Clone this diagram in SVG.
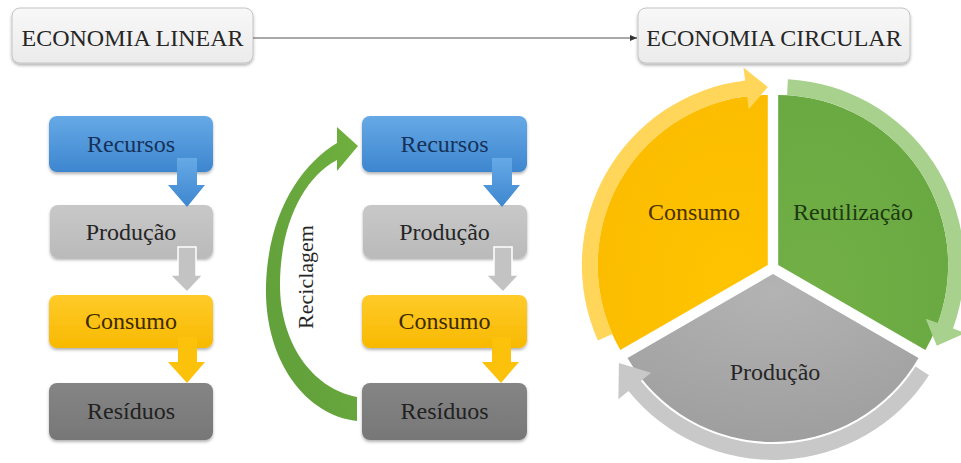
<svg xmlns="http://www.w3.org/2000/svg" width="961" height="463" viewBox="0 0 961 463">
<style>
.t{font-family:"Liberation Serif","Times New Roman",serif;font-size:24px;text-anchor:middle}
.h{font-family:"Liberation Serif","Times New Roman",serif;font-size:24px;text-anchor:middle;fill:#262626}
</style>
<defs>
<filter id="sh" x="-10%" y="-10%" width="120%" height="130%"><feDropShadow dx="0" dy="2" stdDeviation="1.5" flood-color="#000" flood-opacity="0.3"/></filter>
<linearGradient id="gTop" x1="0" y1="0" x2="0" y2="1"><stop offset="0" stop-color="#f8f8f8"/><stop offset="1" stop-color="#ebebeb"/></linearGradient>
<linearGradient id="gBlue" x1="0" y1="0" x2="0" y2="1"><stop offset="0" stop-color="#66a9e6"/><stop offset="1" stop-color="#3d86cf"/></linearGradient>
<linearGradient id="gGray" x1="0" y1="0" x2="0" y2="1"><stop offset="0" stop-color="#c8c8c8"/><stop offset="1" stop-color="#bababa"/></linearGradient>
<linearGradient id="gYel" x1="0" y1="0" x2="0" y2="1"><stop offset="0" stop-color="#ffcb2a"/><stop offset="1" stop-color="#f8b900"/></linearGradient>
<linearGradient id="gDark" x1="0" y1="0" x2="0" y2="1"><stop offset="0" stop-color="#858585"/><stop offset="1" stop-color="#777777"/></linearGradient>
<linearGradient id="gGreen" x1="0" y1="1" x2="1" y2="0"><stop offset="0" stop-color="#5f9d3a"/><stop offset="1" stop-color="#6fb03f"/></linearGradient>
<radialGradient id="gSecY" cx="0.8" cy="0.8" r="1"><stop offset="0" stop-color="#ffc400"/><stop offset="1" stop-color="#fbbb00"/></radialGradient>
<radialGradient id="gSecG" cx="0.2" cy="0.8" r="1"><stop offset="0" stop-color="#72b047"/><stop offset="1" stop-color="#68a840"/></radialGradient>
<radialGradient id="gSecP" cx="0.5" cy="0.1" r="1"><stop offset="0" stop-color="#b3b3b3"/><stop offset="1" stop-color="#9c9c9c"/></radialGradient>
<marker id="ah" markerWidth="8" markerHeight="8" refX="7" refY="4" orient="auto" markerUnits="userSpaceOnUse"><path d="M0,1 L7,4 L0,7 Z" fill="#333"/></marker>
</defs>
<rect width="961" height="463" fill="#ffffff"/>

<g id="economia-linear">
<rect x="12" y="8" width="241" height="55" rx="8" fill="url(#gTop)" stroke="#c4c4c4" filter="url(#sh)"/>
<text class="h" x="132.5" y="46">ECONOMIA LINEAR</text>
</g>

<g id="linear-recursos"><rect x="49" y="116" width="164" height="56" rx="8" fill="url(#gBlue)" filter="url(#sh)"/><text class="t" x="131" y="152" fill="#16325a">Recursos</text></g>
<g id="linear-producao"><rect x="50" y="205" width="163" height="53" rx="8" fill="url(#gGray)" filter="url(#sh)"/><text class="t" x="131" y="240" fill="#262626">Produção</text></g>
<g id="linear-consumo"><rect x="49" y="295" width="164" height="53" rx="8" fill="url(#gYel)" filter="url(#sh)"/><text class="t" x="131" y="329" fill="#3d2a00">Consumo</text></g>
<g id="linear-residuos"><rect x="49" y="383" width="164" height="57" rx="8" fill="url(#gDark)" filter="url(#sh)"/><text class="t" x="131" y="419" fill="#222">Resíduos</text></g>

<g id="rec-recursos"><rect x="362" y="116" width="165" height="56" rx="8" fill="url(#gBlue)" filter="url(#sh)"/><text class="t" x="444.5" y="152" fill="#16325a">Recursos</text></g>
<g id="rec-producao"><rect x="363" y="205" width="164" height="53" rx="8" fill="url(#gGray)" filter="url(#sh)"/><text class="t" x="444.5" y="240" fill="#262626">Produção</text></g>
<g id="rec-consumo"><rect x="362" y="295" width="165" height="53" rx="8" fill="url(#gYel)" filter="url(#sh)"/><text class="t" x="444.5" y="329" fill="#3d2a00">Consumo</text></g>
<g id="rec-residuos"><rect x="362" y="383" width="165" height="57" rx="8" fill="url(#gDark)" filter="url(#sh)"/><text class="t" x="444.5" y="419" fill="#222">Resíduos</text></g>

<g id="ciclo-consumo">
<path d="M767.8,265 L620.3,350 A170,170 0 0,1 767.8,95 Z" fill="url(#gSecY)"/>
<text class="t" x="694" y="220" fill="#4a3200">Consumo</text>
</g>
<g id="ciclo-reutilizacao">
<path d="M778.2,265 L778.2,95 A170,170 0 0,1 925.4,350 Z" fill="url(#gSecG)"/>
<text class="t" x="853" y="220" fill="#1d3a10">Reutilização</text>
</g>
<g id="ciclo-producao">
<path d="M773,274 L918.5,358 A168,168 0 0,1 627.5,358 Z" fill="url(#gSecP)"/>
<text class="t" x="775" y="380" fill="#262626">Produção</text>
</g>

<g id="connectors">
<line x1="253" y1="38" x2="637" y2="38" stroke="#555" stroke-width="1.2" marker-end="url(#ah)"/>
<path d="M177,158 H197 V185 H205 L187,207 L168,185 H177 Z" fill="url(#gBlue)"/>
<path d="M178,247 H196 V275 H203 L187,292 L170,275 H178 Z" fill="#c3c3c3" stroke="#ffffff" stroke-width="1.5"/>
<path d="M178,337 H197 V362 H205 L187,383 L168,362 H178 Z" fill="#fcc10a"/>
<path d="M492,158 H512 V185 H520 L502,207 L483,185 H492 Z" fill="url(#gBlue)"/>
<path d="M494,247 H512 V275 H519 L503,292 L486,275 H494 Z" fill="#c3c3c3" stroke="#ffffff" stroke-width="1.5"/>
<path d="M492,337 H511 V362 H519 L501,383 L482,362 H492 Z" fill="#fcc10a"/>
<path d="M357,421 C305,415 264,360 266,285 C268,215 300,165 337,143 L337,127 L358,146 L337,171 L337,160 C303,178 280,225 280,285 C280,340 310,388 357,397 Z" fill="url(#gGreen)"/>
<text x="313" y="277" transform="rotate(-90 313 277)" style="font-family:'Liberation Serif','Times New Roman',serif;font-size:22px;text-anchor:middle" fill="#262626">Reciclagem</text>
<path d="M612.5,334.1 A170,170 0 0,1 747.1,96.3 L748.7,109.2 L767.8,87 L743.5,67.5 L745.1,80.4 A186,186 0 0,0 597.9,340.6 Z" fill="#ffd55a"/>
<path d="M787.1,95.2 A170,170 0 0,1 937.9,323.1 L925.7,318.7 L936.8,345.8 L965.2,333.1 L953,328.6 A186,186 0 0,0 787.9,79.3 Z" fill="#a9d18e"/>
<path d="M915.6,366.6 A170,170 0 0,1 640.9,381 L651,372.8 L618.9,363 L618.4,399.2 L628.5,391 A186,186 0 0,0 929,375.3 Z" fill="#c8c8c8"/>
</g>

<g id="economia-circular">
<rect x="638" y="8" width="272" height="55" rx="8" fill="url(#gTop)" stroke="#c4c4c4" filter="url(#sh)"/>
<text class="h" x="774" y="46">ECONOMIA CIRCULAR</text>
</g>
</svg>
